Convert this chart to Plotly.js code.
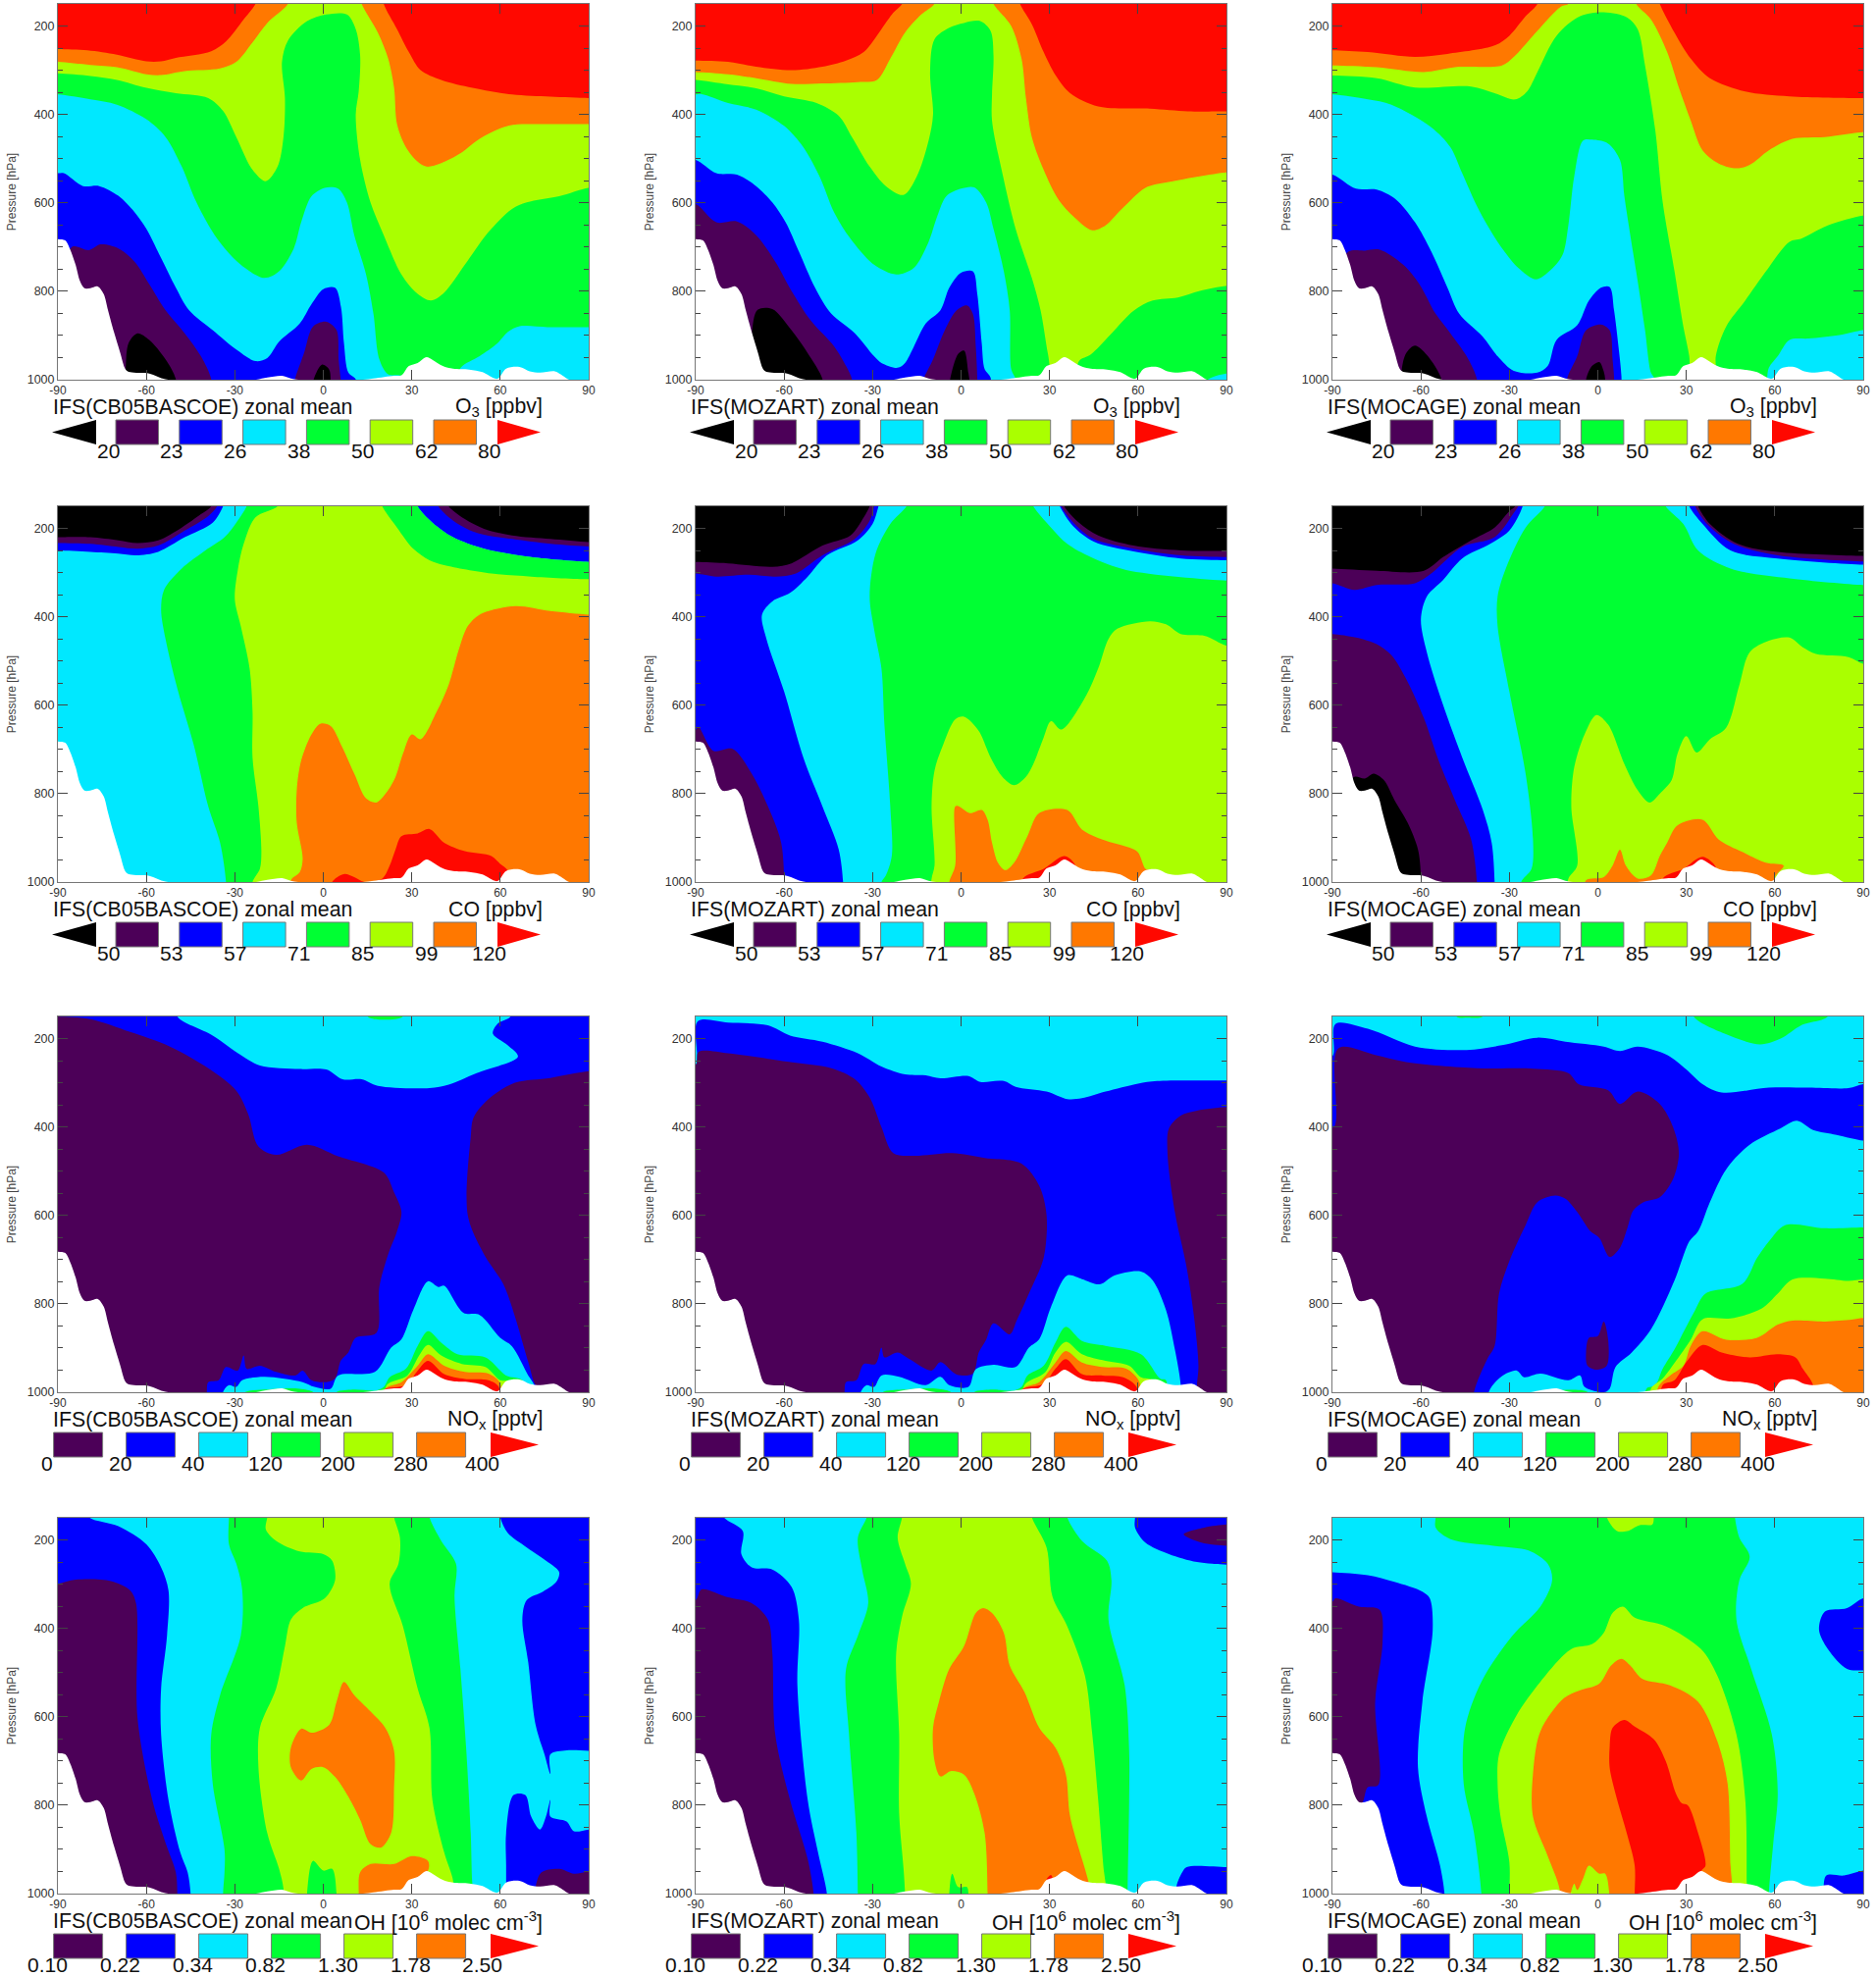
<!DOCTYPE html>
<html>
<head>
<meta charset="utf-8">
<script src="https://cdn.plot.ly/plotly-3.0.1.min.js"></script>
<style>html,body{margin:0;padding:0;background:#fff}</style>
</head>
<body>
<div id="chart"></div>
<script>

const classColors = ["#000000", "#4c0058", "#0000ff", "#00e8ff", "#00ff33", "#aaff00", "#ff7800", "#ff0800"];
const BLACK = 0, PURPLE = 1, BLUE = 2, CYAN = 3, GREEN = 4, LIME = 5, ORANGE = 6, RED = 7;

const latTicks = [-90, -60, -30, 0, 30, 60, 90];
const latLabels = ["-90", "-60", "-30", "0", "30", "60", "90"];
const pressureTicks = [200, 400, 600, 800, 1000];

const o3Levels = ["20", "23", "26", "38", "50", "62", "80"];
const coLevels = ["50", "53", "57", "71", "85", "99", "120"];
const noxLevels = ["0", "20", "40", "120", "200", "280", "400"];
const ohLevels = ["0.10", "0.22", "0.34", "0.82", "1.30", "1.78", "2.50"];

// close a contour along the bottom or the top of the frame
function closeTo(pts, edge) {
  const first = pts[0], last = pts[pts.length - 1];
  const dir = last[0] >= first[0] ? 1 : -1;
  const a = Math.abs(first[0]) >= 89 ? [first[0] - 5 * dir, first[1]] : [first[0], edge];
  const b = Math.abs(last[0]) >= 89 ? [last[0] + 5 * dir, last[1]] : [last[0], edge];
  return [a, ...pts, b, [b[0], edge], [a[0], edge]];
}
function down(pts) { return closeTo(pts, 1040); }
function up(pts) { return closeTo(pts, 120); }

// ground below the lowest model level, the same in all panels
const orography = down([[-90,682],[-87.5,685],[-86,703],[-84,740],[-82.5,777],[-81,793],[-79,793],[-76.5,789],[-74.5,806],[-73,843],[-71,892],[-69,936],[-67,977],[-65.5,983],[-59,986],[-53.5,999],[-45,1002],[-25,1002],[-19,995],[-14,991],[-11,997],[-7,1001],[10,1002],[17,997],[24,991],[26.5,990],[29,969],[32,962],[35,949],[37,955],[40.5,969],[44,975],[49.5,977],[54,983],[59,998],[62,975],[66.5,971],[70,981],[73.5,984],[78.5,981],[80.5,988],[83,999],[85,1002],[90,1002]]);

const wholeFrame = down([[-90,120],[90,120]]);

const o3Cb05 = [
  [RED, wholeFrame],
  [ORANGE, down([[-90,252],[-80,255],[-70,265],[-60,280],[-55,280],[-50,272],[-38,257],[-33,235],[-27,185],[-23,150],[-22,125],[20,125],[20.5,150],[25,207],[29,259],[33,300],[40,322],[50.6,340],[64,355],[77,360],[90,363]])],
  [LIME, down([[-90,281],[-79,288],[-70,293],[-60,309],[-55,311],[-47,302],[-35,296],[-29.5,281],[-24,237],[-19,193],[-12,150],[-11,125],[12,125],[13,150],[18.5,215],[22,274],[24,340],[25,422],[28,474],[32,507],[35,518],[40,510],[46.5,488],[53,455],[63,425],[75,422],[90,422]])],
  [GREEN, down([[-90,307],[-79,313],[-70,322],[-60,340],[-50,352],[-39,363],[-34,392],[-29.5,451],[-24,525],[-19.5,551],[-15.5,518],[-13.5,451],[-13,363],[-14,281],[-12,233],[-5.5,189],[1,174],[8,174],[11,207],[12.5,267],[12,348],[11,400],[12.5,503],[16,599],[20.5,673],[26.5,762],[32,806],[36.5,821],[41,803],[48,740],[56,666],[64,614],[69,599],[80,585],[90,566]])],
  [CYAN, down([[-90,355],[-79,366],[-70,378],[-60,411],[-53.5,451],[-48,518],[-43,599],[-36,681],[-28,740],[-20,770],[-15,755],[-10,703],[-7.5,644],[-4,585],[0.5,566],[5,568],[8,599],[10.5,673],[14.5,762],[17,851],[19,954],[22,988],[26.5,991],[30,1020],[44,1020],[46.6,973],[53,947],[59,918],[62.6,892],[66.6,879],[76,881],[90,881]])],
  [BLUE, down([[-90,533],[-88,533],[-81.5,562],[-76,562],[-69.5,584],[-64,621],[-60,659],[-55,725],[-50,792],[-45.5,843],[-37.5,888],[-29.5,932],[-23,958],[-19,951],[-15,914],[-8,873],[-4,829],[0,795],[4,792],[6,836],[7,917],[8.5,984],[11,999]])],
  [PURPLE, down([[-90,760],[-85,699],[-79.5,707],[-75.5,694],[-69.5,703],[-64,733],[-59,784],[-53.5,843],[-47,895],[-41.5,947],[-38,999]])],
  [PURPLE, down([[-10,1010],[-6.5,939],[-3.5,880],[1,869],[4.5,888],[5.2,954],[6,1010]])],
  [BLACK, down([[-67,977],[-66,917],[-63,895],[-59,910],[-53.5,954],[-50,999]])],
  [BLACK, down([[-3.5,1005],[-0.5,966],[2,977],[2.5,1005]])],
];

const o3Mozart = [
  [RED, wholeFrame],
  [ORANGE, down([[-90,278],[-79,281],[-69.5,292],[-57.5,300],[-47,292],[-39,278],[-33,259],[-27,207],[-23,170],[-20,150],[-19,125],[19,125],[20,150],[24,196],[28,259],[32,311],[37,352],[46.5,382],[64,387],[77,393],[90,393]])],
  [LIME, down([[-90,304],[-79,309],[-69.5,318],[-57.5,331],[-47,330],[-35,327],[-28.5,322],[-24,274],[-19,215],[-13.5,174],[-9,150],[-8,125],[10,125],[11,150],[17,200],[20.5,274],[22,363],[24,451],[28,525],[33,592],[38.5,633],[44.5,662],[49,651],[54.5,614],[62.5,566],[69.5,554],[90,531]])],
  [GREEN, down([[-90,322],[-79,332],[-69.5,341],[-60,359],[-49,374],[-41.5,403],[-37,451],[-31,518],[-25.5,562],[-19.5,582],[-15,540],[-11,459],[-9.5,400],[-10.5,304],[-9,230],[-4,204],[1,193],[6.5,189],[10,211],[11,267],[10.5,355],[10.5,414],[14,533],[18.5,659],[24,770],[27,844],[29.5,943],[32,1020],[38,1020],[40,958],[44,943],[50.5,899],[58.5,844],[65,821],[73.5,814],[81,799],[90,788]])],
  [CYAN, down([[-90,355],[-88,354],[-79,374],[-69.5,389],[-60,426],[-53.5,474],[-48,540],[-43,622],[-37.5,681],[-29.5,740],[-22,762],[-16,747],[-11,688],[-8,629],[-5,585],[0,568],[4.5,565],[8.5,599],[11,659],[14.5,755],[16.5,843],[17,976],[18.5,999]])],
  [CYAN, down([[82,1010],[85,995],[90,986]])],
  [BLUE, down([[-90,503],[-83,533],[-76,536],[-69.5,562],[-64,599],[-59.5,644],[-55,710],[-49.5,792],[-44,851],[-36,895],[-29.5,947],[-27,962],[-21.5,973],[-19,962],[-16,925],[-12,873],[-7,843],[-4,792],[0,758],[4,755],[5.5,806],[7,917],[8,976],[10,995]])],
  [PURPLE, down([[-90,603],[-83,644],[-76,642],[-69.5,673],[-63,733],[-57.5,799],[-51,866],[-43,925],[-39,969],[-37,999]])],
  [PURPLE, down([[-13,1005],[-9.5,954],[-5.5,888],[-1.5,843],[2,832],[4,851],[5,925],[5.5,995]])],
  [BLACK, down([[-71,900],[-69,842],[-64,840],[-57.5,888],[-52,940],[-47,999]])],
  [BLACK, down([[-4,1010],[-1,942],[1,934],[2.5,985],[3,1010]])],
];

const o3Mocage = [
  [RED, wholeFrame],
  [ORANGE, down([[-90,255],[-78,259],[-62,270],[-51,263],[-35,244],[-30,222],[-24.5,178],[-20.5,150],[-20,125],[20,125],[21,150],[26,215],[31.5,274],[38,318],[50,348],[65,359],[90,363]])],
  [LIME, down([[-90,289],[-75,293],[-59,304],[-48.5,293],[-32.5,289],[-28.5,270],[-22,222],[-12.5,156],[-10,150],[-9,125],[12,125],[13,150],[18,185],[23.5,259],[27.5,340],[31.5,414],[35.5,481],[41,511],[47,522],[51.5,514],[58,481],[66,455],[77,451],[90,440]])],
  [GREEN, down([[-90,312],[-75,318],[-62,339],[-43,337],[-35,352],[-28,366],[-24,348],[-20.5,304],[-14,222],[-6,178],[2,169],[10,181],[13.5,207],[16,289],[19.5,437],[22,599],[26,755],[29,880],[31,947],[32,1020],[40,1020],[40,947],[43.5,880],[50,821],[57,755],[65,688],[69,681],[78,651],[90,629]])],
  [CYAN, down([[-90,355],[-78,366],[-70,378],[-56.5,429],[-50,474],[-46,533],[-40.5,614],[-34,688],[-27,747],[-21,773],[-16.5,755],[-12,718],[-10,651],[-8,540],[-5,459],[-2,457],[3.5,466],[7.5,503],[9,585],[11,673],[13.5,777],[16,888],[18,984],[19,995],[19,1020],[56,1020],[58,973],[61,947],[65,910],[71.5,907],[82,899],[90,888]])],
  [BLUE, down([[-90,536],[-82,568],[-75,570],[-68.5,592],[-62,644],[-56.5,710],[-51,792],[-47,851],[-39,903],[-34,947],[-28.5,980],[-20.5,984],[-17,969],[-14,910],[-7,877],[-3,821],[1,792],[4,790],[5.5,843],[7,925],[8,992]])],
  [PURPLE, down([[-90,760],[-84.5,710],[-79,708],[-74,706],[-66,740],[-60.5,784],[-55,851],[-50,895],[-44.5,947],[-41,999]])],
  [PURPLE, down([[-10.5,1000],[-7,947],[-4,888],[1,875],[4,888],[5,954],[5.5,995]])],
  [BLACK, down([[-66.5,977],[-65,940],[-62,923],[-58,944],[-53,999]])],
  [BLACK, down([[-4,1000],[-2,969],[0.5,960],[2,981],[2.5,1000]])],
];

const coCb05 = [
  [BLACK, wholeFrame],
  [PURPLE, down([[-90,220],[-79,220],[-69.5,227],[-63,233],[-56,227],[-48,198],[-41.5,168],[-38,150],[-37,125],[41,125],[42.5,150],[48,179],[54.5,201],[64,216],[77,224],[90,231]])],
  [BLUE, down([[-90,233],[-79,235],[-69.5,242],[-63,246],[-56,239],[-47,205],[-39,172],[-36,150],[-35,125],[38,125],[39,150],[45,187],[52.5,211],[64,224],[77,235],[90,241]])],
  [CYAN, down([[-90,250],[-79,253],[-69.5,257],[-63.5,261],[-56,253],[-47,220],[-37.5,187],[-34,150],[-33,125],[31,125],[32,150],[37,187],[44,220],[54.5,246],[70.5,265],[90,276]])],
  [GREEN, down([[-33,1000],[-35,911],[-39,829],[-44,688],[-49.5,562],[-53.5,450],[-55,384],[-54,339],[-48,291],[-40,250],[-33.5,220],[-29.5,187],[-26,150],[-25,125],[31,125],[32,150],[37,187],[44,220],[54.5,246],[70.5,265],[90,276]])],
  [LIME, down([[-24,1000],[-21.5,970],[-21,933],[-22,829],[-24,718],[-24,614],[-25,517],[-28,421],[-30,361],[-29,294],[-27,235],[-23,175],[-15.5,150],[-14,125],[19,125],[20,150],[25,198],[30.5,246],[36,272],[41,283],[57,302],[70.5,309],[90,315]])],
  [ORANGE, down([[-11,996],[-8,978],[-7,948],[-9,866],[-9,792],[-7.5,725],[-4,666],[-1,642],[2.5,647],[6.5,696],[10.5,755],[14.5,811],[18,820],[22,792],[24.5,762],[27,710],[30,666],[33,677],[38.5,614],[42.5,554],[46,473],[49,421],[53,395],[65,376],[77,387],[90,395]])],
  [RED, down([[3,1000],[7,982],[10.5,989],[14,1000],[20,992],[22.5,963],[24.5,926],[26.5,896],[32,890],[36,880],[41,911],[48,930],[57,941],[60,959],[62.5,974]])],
];

const coMozart = [
  [BLACK, wholeFrame],
  [PURPLE, down([[-90,276],[-79,279],[-64,287],[-57.5,279],[-47,239],[-37.5,216],[-33,175],[-31,150],[-30,125],[34,125],[35,150],[40,187],[46.5,216],[58.5,239],[74.5,250],[90,251]])],
  [BLUE, down([[-90,302],[-83,309],[-72,305],[-63,309],[-56,302],[-47,261],[-36,224],[-31,183],[-29.5,150],[-29,125],[33,125],[34,150],[38.5,190],[45,224],[58.5,246],[74.5,261],[90,265]])],
  [CYAN, down([[-40,1000],[-41.5,926],[-47,829],[-53.5,718],[-60,569],[-66,450],[-67.5,395],[-64,365],[-58,346],[-52,309],[-45.5,261],[-35,227],[-30,190],[-28,150],[-27,125],[32,125],[33.5,150],[38,195],[45,230],[58.5,252],[74.5,268],[90,272]])],
  [GREEN, down([[-27,1000],[-25.5,985],[-23.5,941],[-24,829],[-26,643],[-27,517],[-29.5,428],[-31,354],[-29,257],[-24,190],[-18.5,150],[-17,125],[23,125],[24.5,150],[30.5,198],[36,235],[44,265],[56,294],[90,318]])],
  [LIME, down([[-10,993],[-9,963],[-10,829],[-9,748],[-6,688],[-2,632],[1,626],[6,658],[10,718],[14,762],[18,781],[22,762],[24.5,733],[28,673],[30.5,636],[34,655],[42.5,577],[46.5,517],[50,450],[53,427],[64,410],[69.5,417],[74.5,439],[82.5,443],[90,465]])],
  [ORANGE, down([[-4,1000],[-2,963],[-2,829],[-1,828],[3,844],[7,837],[9,859],[10.5,911],[12.5,956],[15,973],[18,956],[22.5,896],[26.5,844],[36,837],[41,881],[48,904],[57,922],[60,933],[62.5,970],[64,974]])],
  [RED, down([[21,992],[28,970],[35,941],[38.5,959],[39,1000]])],
  [PURPLE, down([[-90,655],[-89,650],[-84,703],[-77.5,699],[-71,755],[-64,852],[-61,911],[-60,985]])],
];

const coMocage = [
  [BLACK, wholeFrame],
  [PURPLE, down([[-90,291],[-75,296],[-59,296],[-52.5,265],[-43,227],[-35,198],[-30,161],[-28,150],[-27,125],[33,125],[34,150],[38,190],[47.5,235],[61,253],[90,262]])],
  [BLUE, down([[-90,324],[-82.5,339],[-75,328],[-62,324],[-56.5,302],[-46,242],[-35,220],[-28.5,165],[-27,150],[-26,125],[32,125],[33,150],[37,190],[46,235],[61,261],[90,275]])],
  [CYAN, down([[-35,1000],[-36,911],[-39,837],[-46,718],[-52.5,599],[-58,480],[-60,406],[-58,354],[-52.5,317],[-46,268],[-36.5,235],[-30,205],[-25.5,150],[-25,125],[30,125],[31,150],[35.5,190],[45,250],[61,268],[90,282]])],
  [GREEN, down([[-26,1000],[-22.5,970],[-22,903],[-24.5,755],[-30,569],[-34,421],[-34,354],[-31,287],[-24.5,198],[-18,150],[-17,125],[22,125],[23,150],[29,190],[34,250],[45,291],[65,313],[90,328]])],
  [LIME, down([[-10,993],[-7,963],[-9,829],[-8,740],[-4.5,666],[-0.5,622],[3.5,644],[9,733],[13.5,792],[17.5,820],[21,800],[25,770],[27,710],[30,670],[33.5,707],[38,677],[43.5,651],[48,554],[51.5,480],[58,454],[65,447],[69.5,469],[74,484],[85,491],[90,506]])],
  [ORANGE, down([[-4,996],[2,989],[5,963],[7.5,927],[9.5,963],[13.5,992],[18,985],[21,941],[23.5,911],[27,872],[35.5,859],[41,904],[49,932],[57,956],[63,963],[60,989]])],
  [RED, down([[22,992],[29,970],[35.5,943],[40,966],[40,1000]])],
  [PURPLE, down([[-90,439],[-82,447],[-75,462],[-70,487],[-64.5,547],[-59,629],[-54,725],[-48.5,814],[-43,903],[-41,1000]])],
  [BLACK, down([[-85,780],[-82.5,762],[-79,766],[-76,755],[-72.5,770],[-69,814],[-64.5,866],[-61,926],[-60,985]])],
];

const noxCb05 = [
  [BLUE, wholeFrame],
  [PURPLE, down([[-90,150],[-79,156],[-65.5,185],[-52,218],[-39,267],[-29.5,318],[-25.5,370],[-22,444],[-16,463],[-5.5,440],[5,466],[20.5,503],[24,548],[26.5,592],[25,636],[22,688],[19,762],[18,866],[11,877],[8.5,910],[6,928],[4,969],[1,977],[-4,973],[-7,951],[-9.5,962],[-16,954],[-21.5,940],[-26,947],[-27,917],[-29,951],[-33,943],[-35.5,973],[-39,977],[-39.5,1000]])],
  [PURPLE, down([[75,1000],[72,984],[69.5,932],[65,829],[61,755],[54.5,688],[49,600],[50,422],[51,378],[56,337],[65,300],[77,289],[90,274]])],
  [CYAN, up([[-49.5,150],[-37.5,193],[-28,237],[-21.5,261],[-8,269],[1,270],[6.5,292],[13,292],[18.5,307],[36,312],[42.5,304],[52,278],[66,241],[62.5,215],[57.5,189],[59,167],[63.5,150]])],
  [GREEN, up([[15,150],[19,157],[27,150]])],
  [CYAN, down([[-34,1000],[-32,984],[-29.5,988],[-27.5,973],[-20,965],[-7,977],[-3,988],[2.5,992],[5,962],[17.5,954],[23,899],[26.5,880],[30.5,814],[35.5,749],[39,762],[41,759],[47.5,820],[53,825],[60,877],[64,896],[69.5,962],[71.5,984]])],
  [GREEN, down([[-27,1002],[-20,994],[-8,992],[-3,1002]])],
  [GREEN, down([[4,1002],[10,994],[18,996],[20.5,988],[22.5,966],[28,947],[32,895],[35.5,862],[40,888],[45.5,914],[55,921],[62,962],[67.5,973]])],
  [LIME, down([[21.5,984],[28.5,962],[32.5,917],[35.5,893],[40,917],[47,936],[55,943],[60,973],[63,975]])],
  [ORANGE, down([[21,992],[26.5,977],[32,940],[35.5,914],[41,940],[48,954],[56,958],[60,980]])],
  [RED, down([[20.5,995],[28,984],[32,951],[35.5,929],[41,959],[48,970],[56,973],[59.5,988]])],
];

const noxMozart = [
  [CYAN, wholeFrame],
  [BLUE, down([[-90,260],[-89.3,161],[-79,164],[-65.5,170],[-58,193],[-47,207],[-35,233],[-27,263],[-19,281],[-12,283],[-7,290],[2.5,285],[6.5,298],[14.5,296],[18.5,309],[29,320],[36,337],[41,335],[49,320],[60,302],[66.5,296],[90,295]])],
  [PURPLE, down([[-90,260],[-89,230],[-79,233],[-59,252],[-44,267],[-36,292],[-31,333],[-27,400],[-23,459],[-16,465],[-3,459],[8,470],[20.5,483],[26.5,533],[29,600],[28,696],[23,777],[19,836],[16.5,869],[11,844],[8.5,881],[6,910],[4,958],[-1.5,960],[-7,932],[-10,951],[-17.5,925],[-21.5,910],[-26,921],[-27,899],[-29,936],[-33,936],[-35.5,973],[-39,977],[-39.5,1000]])],
  [PURPLE, down([[80,1000],[80,984],[80.5,940],[79,829],[76.5,718],[72.5,592],[70,459],[70.5,403],[74.5,374],[80,363],[90,355]])],
  [CYAN, down([[-34,1000],[-32,984],[-29.5,988],[-27,962],[-21,965],[-12,984],[-7,965],[-4,984],[2.5,988],[5,948],[11,938],[18.5,943],[23,899],[26.5,880],[30.5,807],[36,736],[41,744],[47,756],[52,736],[61,727],[65,747],[69.5,814],[72.5,903],[74.5,984]])],
  [GREEN, down([[-27,1002],[-20,994],[-8,992],[-3,1002]])],
  [GREEN, down([[4,1002],[10,994],[18,996],[20.5,988],[22.5,962],[28,940],[32,888],[35.5,852],[41,884],[49,895],[61,914],[67.5,969],[69.5,973]])],
  [LIME, down([[21.5,984],[28.5,955],[32,910],[35.5,886],[41,914],[49,929],[57,940],[61,966],[65,973]])],
  [ORANGE, down([[21,992],[26.5,977],[32,933],[35.5,907],[41,933],[48,943],[56,947],[60.5,977]])],
  [RED, down([[20.5,995],[28,981],[32,947],[35.5,925],[41,959],[48,962],[55,966],[59.5,988]])],
];

const noxMocage = [
  [CYAN, wholeFrame],
  [BLUE, down([[-90,240],[-89,167],[-78,178],[-62,218],[-44.5,226],[-32.5,215],[-20.5,198],[-11,207],[2,218],[7.5,228],[13.5,218],[23.5,237],[30,270],[35.5,303],[42,322],[58,311],[71.5,311],[85,312],[90,303]])],
  [CYAN, down([[-37,1000],[-33,966],[-27.5,951],[-25,966],[-19.5,958],[-10,973],[-6,962],[-4.5,988],[2,1000],[4,992],[6,943],[11.5,910],[18,858],[26,747],[31,659],[34,636],[38,570],[43.5,496],[51.5,440],[62,403],[67.5,386],[73,407],[81,418],[90,431]])],
  [PURPLE, down([[-89.5,400],[-88,222],[-75.5,237],[-65,253],[-41,267],[-22,268],[-10,278],[-6.5,303],[3.5,317],[7.5,348],[13.5,320],[21,348],[25.5,400],[27.5,459],[25.5,518],[21,559],[15.5,570],[12,589],[10,629],[7.5,673],[4,694],[0.5,651],[-2.5,636],[-7,592],[-11,562],[-14.5,555],[-20.5,570],[-24.5,622],[-30,703],[-33.5,777],[-35,895],[-37.5,925],[-42,1000]])],
  [PURPLE, [[-3.5,940],[-4,910],[-3,877],[0,873],[2,840],[3.5,881],[3,940],[-0.5,949],[-3.5,940]]],
  [GREEN, up([[32.5,150],[43,189],[55,213],[62,200],[69,170],[78,150]])],
  [GREEN, up([[-48,150],[-44,153],[-39,150]])],
  [GREEN, down([[-22,1002],[-15,996],[-5,996],[-3,1002]])],
  [GREEN, down([[16.5,992],[19.5,984],[22,947],[26,903],[29.5,858],[33,814],[36.5,777],[49,755],[54,696],[58,659],[63.5,622],[77,629],[90,627]])],
  [LIME, down([[18,992],[22,969],[26.5,929],[31.5,881],[35.5,835],[45,833],[55.5,811],[61,777],[66,745],[77,743],[85,748],[90,744]])],
  [ORANGE, down([[20.5,988],[24.5,962],[29,940],[31.5,895],[35.5,862],[43.5,881],[54,877],[61,847],[66,838],[77,840],[86,836],[90,832]])],
  [RED, down([[22,984],[26,973],[30,932],[35.5,893],[42,910],[51.5,921],[61,914],[67,921],[69.5,947],[73,984]])],
];

const ohCb05 = [
  [CYAN, wholeFrame],
  [BLUE, down([[-90,125],[-79.5,125],[-79.5,148],[-69.5,169],[-60,210],[-55,262],[-52.5,314],[-53,417],[-55,536],[-55,640],[-52.5,788],[-48.5,907],[-46,952],[-45,1000]])],
  [PURPLE, down([[-90,299],[-84,290],[-72,293],[-65.5,314],[-63.5,343],[-63,603],[-58,788],[-53.5,885],[-50,952],[-49.5,1000]])],
  [BLUE, up([[60,148],[62.5,184],[69,217],[77,254],[80,273],[79,295],[74.5,317],[69,336],[67.5,380],[69.5,477],[72,618],[75,685],[77,729],[77,685],[82.5,676],[90,677]])],
  [BLUE, down([[62,1000],[62,937],[62,863],[64.5,777],[68.5,777],[70.5,826],[73.5,855],[75.5,826],[77,788],[77,826],[82.5,837],[85,859],[90,855]])],
  [PURPLE, down([[72,985],[74,952],[80,944],[85,955],[90,950]])],
  [GREEN, down([[-34,1000],[-33.5,952],[-33.5,900],[-37.5,751],[-38,640],[-35,551],[-28,417],[-27.5,314],[-29.5,254],[-32,210],[-32,148],[-32,125],[36,125],[36,148],[40,202],[45,254],[44.5,328],[46.5,492],[48.5,677],[50,863],[50.5,974],[51,1000]])],
  [LIME, down([[-13.5,989],[-15,944],[-19,863],[-22,714],[-21.5,625],[-16,536],[-13,440],[-11,380],[-7,354],[0.5,332],[4,291],[3,247],[0,232],[-8,226],[-16,202],[-19.5,176],[-19,148],[-19,125],[24,125],[24,148],[26,195],[25.5,254],[22.5,299],[27,395],[32,536],[36,625],[37,788],[41,907],[44,970],[44,1000]])],
  [GREEN, down([[-5.5,1000],[-3.5,926],[0,948],[3,944],[4.5,1000]])],
  [ORANGE, [[7,521],[10.5,551],[16,588],[21,625],[24,677],[24,759],[23,863],[19.5,896],[16,888],[12.5,833],[8.5,781],[4,736],[0,714],[-4,718],[-7.5,744],[-11,714],[-11,670],[-7.5,627],[-4,636],[2,618],[4.5,566],[7,521]]],
  [ORANGE, down([[12,1000],[12.5,952],[16,933],[24,933],[30,915],[35.5,926],[35.5,948],[27,989]])],
];

const ohMozart = [
  [CYAN, wholeFrame],
  [BLUE, down([[-90,125],[-80.5,125],[-80.5,148],[-74,180],[-74.5,232],[-71,262],[-64,267],[-57.5,306],[-55,380],[-55.5,529],[-52,788],[-48.5,907],[-45.5,1000]])],
  [PURPLE, down([[-90,336],[-88,312],[-79,330],[-71,343],[-65.5,380],[-64,455],[-63,640],[-58,788],[-52,922],[-50,1000]])],
  [BLUE, up([[59,148],[59,172],[62.5,206],[70.5,232],[80,250],[90,256]])],
  [PURPLE, [[75.5,187],[82.5,172],[90,165],[95,165],[95,213],[90,213],[81.5,206],[75.5,187]]],
  [BLUE, down([[73,985],[75,952],[76.5,940],[90,940]])],
  [GREEN, down([[-35,1000],[-35.5,863],[-38,640],[-39,492],[-35,417],[-31.5,343],[-33.5,269],[-35,195],[-32,148],[-32,125],[36,125],[36,148],[41,202],[49.5,247],[51,291],[50,380],[55.5,529],[57,677],[57,788],[56.5,1000]])],
  [LIME, down([[-19,1000],[-19.5,944],[-21,818],[-21,640],[-22,455],[-20,373],[-17,299],[-19,254],[-21.5,195],[-20,148],[-20,125],[24,125],[24,148],[29,217],[31,328],[36,395],[42,507],[44.5,640],[46.5,788],[48.5,952],[49.5,1000]])],
  [GREEN, down([[-4,1000],[-3,955],[-1,985],[2,985],[2.5,1000]])],
  [ORANGE, down([[9,1000],[8,863],[4.5,774],[1,731],[-3.5,723],[-7,735],[-9,700],[-9.5,625],[-7.5,566],[-4,492],[1,440],[5,365],[7.5,354],[10.5,365],[14.5,410],[16.5,484],[21.5,544],[26.5,625],[32,670],[35.5,729],[37,826],[43,967],[44,1000]])],
  [RED, [[29,968],[30.5,958],[31,968],[29,968]]],
];

const ohMocage = [
  [CYAN, wholeFrame],
  [BLUE, down([[-90,273],[-78,280],[-69,295],[-59.5,317],[-57,332],[-56,403],[-59.5,566],[-61,714],[-58,826],[-53.5,937],[-52,1000]])],
  [PURPLE, [[-90,340],[-89,332],[-81,351],[-74,358],[-73,432],[-75.5,566],[-74.5,755],[-78,759],[-80,796],[-85,820],[-90,1000],[-95,1000],[-95,340],[-90,340]]],
  [BLUE, [[90,332],[84.5,354],[77,362],[75,403],[78,447],[84.5,492],[90,495],[95,495],[95,332],[90,332]]],
  [BLUE, down([[76.5,989],[77.5,959],[83.5,959],[90,948]])],
  [GREEN, down([[-39.5,1000],[-42,863],[-45.5,751],[-45,625],[-39.5,521],[-29,417],[-19.5,351],[-15.5,291],[-17,254],[-23.5,224],[-35.5,213],[-50,198],[-55,172],[-55,148],[-55,125],[46.5,125],[46.5,148],[48,195],[51.5,238],[48,291],[47,380],[52,492],[59,640],[61,774],[59.5,885],[58,1000]])],
  [LIME, up([[3,148],[6.5,180],[10,180],[14,167],[18.5,165],[19,148]])],
  [LIME, down([[-30,1000],[-30,929],[-33,826],[-34,751],[-33.5,685],[-27.5,596],[-19.5,521],[-9,447],[-2,436],[2,410],[5,365],[8.5,351],[12.5,376],[23,395],[35,447],[40.5,507],[47,640],[50,788],[50.5,974],[50.5,1000]])],
  [ORANGE, down([[-13,989],[-17,915],[-22,826],[-22,729],[-19.5,633],[-11.5,558],[-6,540],[0.5,525],[4.5,484],[8,469],[11,484],[15,514],[24.5,529],[34,566],[40.5,655],[44,751],[45,937],[45.5,978]])],
  [LIME, down([[-9.5,1010],[-8,978],[-7,992],[-5,966],[-3,937],[0.5,955],[2.5,955],[4,1010]])],
  [RED, down([[12.5,1000],[12.5,937],[10,868],[6,774],[4,714],[4,670],[5,625],[9,607],[12.5,622],[19,651],[23,700],[26.5,774],[28.5,796],[30.5,800],[34,863],[36.5,937],[35,950]])],
];

const rows = [
  { species: "O<sub>3</sub> [ppbv]", levels: o3Levels, panels: [o3Cb05, o3Mozart, o3Mocage] },
  { species: "CO [ppbv]", levels: coLevels, panels: [coCb05, coMozart, coMocage] },
  { species: "NO<sub>x</sub> [pptv]", levels: noxLevels, panels: [noxCb05, noxMozart, noxMocage] },
  { species: "OH [10<sup>6</sup> molec cm<sup>-3</sup>]", levels: ohLevels, panels: [ohCb05, ohMozart, ohMocage] },
];
const models = ["IFS(CB05BASCOE) zonal mean", "IFS(MOZART) zonal mean", "IFS(MOCAGE) zonal mean"];

const W = 1912, H = 2015;
const rowTop = [4, 516, 1036, 1547];
const colLeft = [59, 709, 1358];
const plotW = 541, plotH = 383;

const px = (x) => x / W;
const py = (y) => 1 - y / H;

const traces = [];
const layout = {
  width: W, height: H,
  margin: { l: 0, r: 0, t: 0, b: 0 },
  paper_bgcolor: "#fff", plot_bgcolor: "#fff",
  showlegend: false, hovermode: false,
  font: { family: "Liberation Sans, Arial, sans-serif", color: "#000" },
  shapes: [], annotations: [],
};

function text(x, y, str, size, anchor) {
  layout.annotations.push({
    xref: "paper", yref: "paper", x: px(x), y: py(y), text: str, showarrow: false,
    xanchor: anchor, yanchor: "middle", font: { size: size, color: "#111" }, borderpad: 0,
  });
}

function box(x0, y0, x1, y1, color) {
  layout.shapes.push({
    type: "rect", xref: "paper", yref: "paper", x0: px(x0), x1: px(x1), y0: py(y0), y1: py(y1),
    fillcolor: color, line: { color: "#777", width: 1 },
  });
}

function triangle(x0, x1, tip, y0, y1, color) {
  const base = tip === x0 ? x1 : x0;
  const mid = (y0 + y1) / 2;
  layout.shapes.push({
    type: "path", xref: "paper", yref: "paper", fillcolor: color, line: { width: 0 },
    path: `M${px(base)},${py(y0)} L${px(tip)},${py(mid)} L${px(base)},${py(y1)} Z`,
  });
}

rows.forEach((row, r) => {
  colLeft.forEach((left, c) => {
    const n = r * 3 + c + 1;
    const xName = n === 1 ? "x" : "x" + n;
    const yName = n === 1 ? "y" : "y" + n;
    const top = rowTop[r], bottom = top + plotH;

    for (const [cls, pts] of [...row.panels[c], [null, orography]]) {
      traces.push({
        type: "scatter", mode: "lines", xaxis: xName, yaxis: yName,
        x: pts.map((p) => p[0]), y: pts.map((p) => p[1]),
        fill: "toself", fillcolor: cls === null ? "#fff" : classColors[cls],
        line: { width: 0, shape: "spline", smoothing: 0.9, simplify: false },
        hoverinfo: "skip",
      });
    }

    layout["xaxis" + (n === 1 ? "" : n)] = {
      domain: [px(left), px(left + plotW)], anchor: yName, range: [-90, 90],
      tickvals: latTicks, ticktext: latLabels, ticks: "inside", ticklen: 10, tickwidth: 1, tickcolor: "#444",
      showline: true, linecolor: "#777", linewidth: 1, mirror: "allticks", showgrid: false, zeroline: false,
      tickfont: { size: 12, color: "#333" }, fixedrange: true,
    };
    layout["yaxis" + (n === 1 ? "" : n)] = {
      domain: [py(bottom), py(top)], anchor: xName, range: [1000, 150],
      tickvals: pressureTicks, ticks: "inside", ticklen: 10, tickwidth: 1, tickcolor: "#444",
      minor: { dtick: 50, ticks: "inside", ticklen: 5, tickcolor: "#444", showgrid: false },
      showline: true, linecolor: "#777", linewidth: 1, mirror: "allticks", showgrid: false, zeroline: false,
      tickfont: { size: 12.5, color: "#333" }, fixedrange: true,
      title: { text: "Pressure [hPa]", font: { size: 12, color: "#444" }, standoff: 8 },
    };

    // colour key under the panel
    text(left - 6, bottom + 28, models[c], 21.3, "left");
    text(left + 495, bottom + 28, row.species, 21.3, "right");
    const keyY0 = bottom + 41, keyY1 = bottom + 66, labelY = bottom + 72.5;
    if (r < 2) {
      triangle(left - 6, left + 39, left - 6, keyY0, keyY1, classColors[BLACK]);
      for (let i = 0; i < 6; i++) {
        box(left + 59 + i * 64.8, keyY0, left + 102.5 + i * 64.8, keyY1, classColors[PURPLE + i]);
      }
      triangle(left + 448, left + 492, left + 492, keyY0, keyY1, classColors[RED]);
      row.levels.forEach((lab, i) => text(left + 51 + i * 64.8, labelY, lab, 21, "center"));
    } else {
      for (let i = 0; i < 6; i++) {
        box(left - 4.4 + i * 74, keyY0, left + 45.6 + i * 74, keyY1, classColors[PURPLE + i]);
      }
      triangle(left + 441, left + 490, left + 490, keyY0, keyY1, classColors[RED]);
      row.levels.forEach((lab, i) => text(left - 11 + i * 74, labelY, lab, 21, "center"));
    }
  });
});

Plotly.newPlot("chart", traces, layout, { displayModeBar: false, staticPlot: true });
</script>
</body>
</html>
